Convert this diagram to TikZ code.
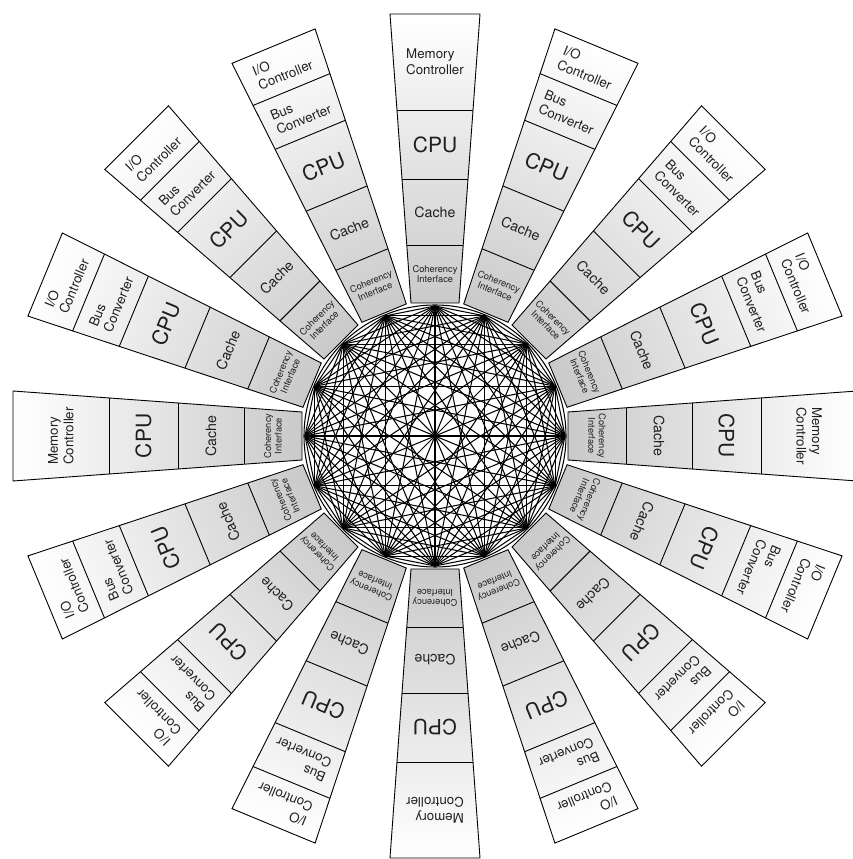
\documentclass[tikz,border=0pt]{standalone}
\usepackage{fontspec}
\setmainfont{TeX Gyre Heros}
\begin{document}
\begin{tikzpicture}[x=1pt,y=1pt,
  seg/.style={draw=black,line width=0.9pt},
  lab/.style={text=black!88,inner sep=0pt},
  cilab/.style={lab,font=\fontsize{9.3}{10.5}\selectfont,align=center},
  calab/.style={lab,font=\fontsize{14.2}{16}\selectfont},
  cpulab/.style={lab,font=\fontsize{21}{24}\selectfont},
  twolab/.style={lab,font=\fontsize{13.3}{15.5}\selectfont,align=left},
  meshline/.style={line width=1.05pt,black},
]
\useasboundingbox (0,0) rectangle (852,859);
\coordinate (c) at (435,423);
% spokes
\foreach \k in {0,...,15}{
  \pgfmathsetmacro{\ang}{\k*22.5}
  \pgfmathsetmacro{\rot}{\k*22.5-90}
  \pgfmathtruncatemacro{\m}{mod(\k,4)}
  \begin{scope}[transform canvas={shift={(435pt,423pt)},rotate=\ang}]
    \shade[left color=black!21,right color=white]
      (133,-24)--(422,-45)--(422,45)--(133,24)--cycle;
    \draw[seg] (133,-24)--(422,-45)--(422,45)--(133,24)--cycle;
    \draw[seg] (191,-28.2)--(191,28.2);
    \draw[seg] (257,-33)--(257,33);
    \draw[seg] (326,-38)--(326,38);
    \ifnum\m=0\else
      \draw[seg] (375,-41.6)--(375,41.6);
    \fi
  \end{scope}
  \path (c) ++(\ang:162) node[cilab,rotate=\rot] (ci\k) {Coherency\\Interface};
  \path (c) ++(\ang:224) node[calab,rotate=\rot] (ca\k) {Cache};
  \path (c) ++(\ang:291.5) node[cpulab,rotate=\rot] (cpu\k) {CPU};
  \ifnum\m=0
    \path (c) ++(\ang:374) node[twolab,rotate=\rot] (mc\k) {Memory\\Controller};
  \else
    \path (c) ++(\ang:350.5) node[twolab,rotate=\rot] (bc\k) {Bus\\Converter};
    \path (c) ++(\ang:398.5) node[twolab,rotate=\rot] (io\k) {I/O\\Controller};
  \fi
}
% mesh
\foreach \k in {0,...,15}{
  \path (c) ++(\k*22.5:130) coordinate (p\k);
}
\draw[meshline] (c) circle (131);
\foreach \i in {0,...,15}{
  \foreach \j in {0,...,15}{
    \ifnum\i<\j
      \draw[meshline] (p\i)--(p\j);
    \fi
  }
}
\end{tikzpicture}
\end{document}
